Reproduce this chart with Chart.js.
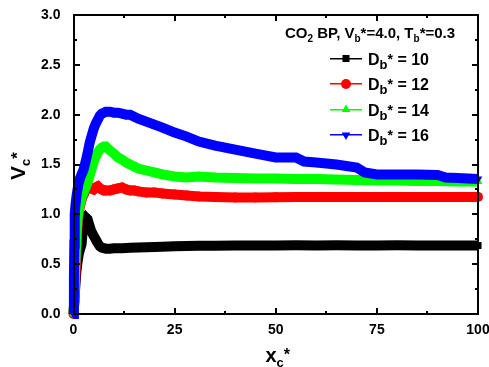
<!DOCTYPE html>
<html>
<head>
<meta charset="utf-8">
<script src="https://cdn.jsdelivr.net/npm/chart.js@4.4.1/dist/chart.umd.min.js"></script>
<style>
  html, body { margin: 0; padding: 0; background: #fff; overflow: hidden; }
  #wrap { width: 489px; height: 367px; }
</style>
</head>
<body>
<div id="wrap"><canvas id="chart"></canvas></div>
<script>
// ===== DATA =====
const xTicks = [0, 25, 50, 75, 100];
const yTicks = [0.0, 0.5, 1.0, 1.5, 2.0, 2.5, 3.0];
const seriesLabels = ["10", "12", "14", "16"];

const blackX = [0, 0.2, 0.4, 0.7, 1.0, 1.3, 1.7, 2.0, 2.3, 2.6,
  3.0, 3.5, 4.0, 4.4, 4.8, 5.2, 5.6, 6.0, 6.5, 7.0,
  8, 9, 10, 12, 14, 16, 18, 20, 22, 25,
  28, 31, 35, 40, 45, 50, 55, 60, 65, 70,
  75, 80, 85, 90, 95, 100];
const blackY = [0, 0.12, 0.25, 0.42, 0.52, 0.6, 0.66, 0.7, 0.85, 0.95,
  0.97, 0.95, 0.88, 0.83, 0.8, 0.77, 0.74, 0.71, 0.68, 0.665,
  0.655, 0.655, 0.66, 0.66, 0.665, 0.668, 0.67, 0.672, 0.675, 0.68,
  0.682, 0.684, 0.686, 0.687, 0.688, 0.688, 0.689, 0.688, 0.689, 0.688,
  0.688, 0.689, 0.688, 0.688, 0.688, 0.688];

const redX = [0, 0.2, 0.4, 0.7, 1.0, 1.3, 1.7, 2.0, 2.5, 3.0,
  3.5, 4, 4.5, 5, 5.5, 6, 6.5, 7, 7.5, 8,
  9, 10, 11, 12, 13, 14, 15, 16, 18, 20,
  22, 25, 28, 31, 35, 40, 45, 50, 55, 60,
  65, 70, 75, 80, 85, 90, 95, 100];
const redY = [0, 0.12, 0.3, 0.6, 0.9, 1.02, 1.1, 1.15, 1.2, 1.24,
  1.27, 1.27, 1.26, 1.25, 1.27, 1.28, 1.26, 1.25, 1.24, 1.24,
  1.24, 1.25, 1.26, 1.27, 1.25, 1.24, 1.24, 1.23, 1.22, 1.22,
  1.21, 1.2, 1.19, 1.18, 1.175, 1.17, 1.17, 1.172, 1.174, 1.175,
  1.175, 1.175, 1.175, 1.175, 1.175, 1.175, 1.175, 1.175];

const greenX = [0, 0.2, 0.4, 0.7, 1.0, 1.3, 1.7, 2.0, 2.5, 3.0,
  3.5, 4, 4.5, 5, 5.5, 6, 6.5, 7, 7.5, 8,
  8.5, 9, 10, 11, 12, 13, 14, 15, 16, 18,
  20, 22, 25, 28, 31, 35, 40, 45, 50, 55,
  60, 65, 70, 75, 80, 85, 90, 95, 100];
const greenY = [0, 0.2, 0.45, 0.75, 0.95, 1.05, 1.12, 1.17, 1.22, 1.27,
  1.32, 1.39, 1.46, 1.53, 1.58, 1.62, 1.65, 1.67, 1.68, 1.68,
  1.66, 1.64, 1.61, 1.57, 1.55, 1.52, 1.5, 1.48, 1.46, 1.44,
  1.42, 1.4, 1.38, 1.37, 1.38, 1.37, 1.365, 1.36, 1.36, 1.355,
  1.355, 1.35, 1.345, 1.34, 1.34, 1.335, 1.335, 1.33, 1.33];

const blueX = [0, 0.1, 0.2, 0.3, 0.5, 0.8, 1.2, 1.6, 2.0, 2.5,
  3.0, 3.5, 4, 4.5, 5, 5.5, 6, 6.5, 7, 7.5,
  8, 8.5, 9, 10, 11, 12, 13, 14, 15, 16,
  18, 20, 22, 25, 28, 31, 35, 40, 45, 50,
  55, 57, 60, 65, 70, 72, 75, 80, 85, 90,
  92, 95, 100];
const blueY = [0, 0.35, 0.7, 1.0, 1.1, 1.2, 1.3, 1.36, 1.4, 1.45,
  1.53, 1.62, 1.72, 1.79, 1.86, 1.91, 1.95, 1.99, 2.01, 2.02,
  2.03, 2.03, 2.03, 2.02, 2.02, 2.01, 2.0, 2.0, 1.98, 1.96,
  1.93, 1.9, 1.87, 1.82, 1.78, 1.73, 1.69, 1.65, 1.61, 1.57,
  1.57, 1.53, 1.52, 1.5, 1.47, 1.42, 1.4, 1.4, 1.4, 1.395,
  1.37, 1.365, 1.355];

const FONT = "'Liberation Sans', Arial, sans-serif";

function toPoints(xs, ys) {
  return xs.map((x, i) => ({ x: x, y: ys[i] }));
}

function makeSet(label, xs, ys, color, style, rot, order) {
  return {
    label: label,
    data: toPoints(xs, ys),
    showLine: true,
    borderColor: color,
    backgroundColor: color,
    borderWidth: 10,
    pointStyle: style,
    pointRotation: rot,
    pointRadius: 5,
    pointHoverRadius: 5,
    pointBorderWidth: 0,
    tension: 0,
    order: order,
    clip: 6
  };
}

// draw a run of text pieces: [text, size, yShift]
function drawRich(ctx, x, y, parts) {
  let cx = x;
  parts.forEach(p => {
    ctx.font = "bold " + p[1] + "px " + FONT;
    ctx.fillText(p[0], cx, y + (p[2] || 0));
    cx += ctx.measureText(p[0]).width;
  });
  return cx - x;
}

function richWidth(ctx, parts) {
  let w = 0;
  parts.forEach(p => {
    ctx.font = "bold " + p[1] + "px " + FONT;
    w += ctx.measureText(p[0]).width;
  });
  return w;
}

// box round the plot and inward ticks on all four sides, from the chart's scales
function drawFrame(chart) {
  const ctx = chart.ctx;
  const xs = chart.scales.x, ys = chart.scales.y;
  const area = chart.chartArea;
  const L = Math.round(area.left), R = Math.round(area.right);
  const T = Math.round(area.top), B = Math.round(area.bottom);
  ctx.save();
  ctx.globalAlpha = 1;
  ctx.globalCompositeOperation = "source-over";
  ctx.fillStyle = "#000000";
  ctx.fillRect(L - 1, T - 1, R - L + 2, 2);
  ctx.fillRect(L - 1, B - 1, R - L + 2, 2);
  ctx.fillRect(L - 1, T - 1, 2, B - T + 2);
  ctx.fillRect(R - 1, T - 1, 2, B - T + 2);
  xTicks.forEach((v, i) => {
    const px = Math.round(xs.getPixelForValue(v));
    ctx.fillRect(px - 1, B - 6, 2, 6);
    ctx.fillRect(px - 1, T, 2, 6);
    if (i < xTicks.length - 1) {
      const mx = Math.round(xs.getPixelForValue((v + xTicks[i + 1]) / 2));
      ctx.fillRect(mx - 1, B - 3, 2, 3);
      ctx.fillRect(mx - 1, T, 2, 3);
    }
  });
  yTicks.forEach((v, i) => {
    const py = Math.round(ys.getPixelForValue(v));
    ctx.fillRect(L, py - 1, 6, 2);
    ctx.fillRect(R - 6, py - 1, 6, 2);
    if (i < yTicks.length - 1) {
      const my = Math.round(ys.getPixelForValue((v + yTicks[i + 1]) / 2));
      ctx.fillRect(L, my - 1, 3, 2);
      ctx.fillRect(R - 3, my - 1, 3, 2);
    }
  });
  ctx.restore();
}

// axis titles and legend
function drawTexts(chart) {
  const ctx = chart.ctx;
  const area = chart.chartArea;
  ctx.save();
  ctx.fillStyle = "#000000";
  ctx.textBaseline = "alphabetic";
  ctx.textAlign = "left";

  const xt = [["x", 20, 0], ["c", 13, 5], ["*", 16, -2]];
  const xw = richWidth(ctx, xt);
  drawRich(ctx, (area.left + area.right) / 2 - xw / 2 + 2, 362, xt);

  const yt = [["V", 21, 0], ["c", 13, 5], ["*", 17, -2]];
  const yw = richWidth(ctx, yt);
  ctx.save();
  ctx.translate(25, 166);
  ctx.rotate(-Math.PI / 2);
  drawRich(ctx, -yw / 2, 0, yt);
  ctx.restore();

  drawRich(ctx, 285, 38, [
    ["CO", 15, 0], ["2", 10, 4], [" BP, V", 15, 0], ["b", 10, 4],
    ["*=4.0, T", 15, 0], ["b", 10, 4], ["*=0.3", 15, 0]
  ]);

  const rowY = [58.5, 84, 109.5, 135];
  chart.data.datasets.forEach((ds, i) => {
    const cy = rowY[i];
    ctx.fillStyle = ds.borderColor;
    ctx.fillRect(330, Math.round(cy) - 1, 32, 1.5);
    Chart.helpers.drawPoint(ctx, {
      pointStyle: ds.pointStyle, rotation: ds.pointRotation,
      radius: 5, borderWidth: 0
    }, 346, cy);
    ctx.fillStyle = "#000000";
    drawRich(ctx, 368, cy + 6, [["D", 16, 0], ["b", 13, 4], ["*", 14, -1], [" = " + seriesLabels[i], 16, 0]]);
  });
  ctx.restore();
}

const decorPlugin = {
  id: "decor",
  beforeDatasetsDraw(chart) { drawFrame(chart); },
  afterDraw(chart) {
    drawFrame(chart);
    drawTexts(chart);
    drawFrame(chart);
  }
};

Chart.defaults.font.family = FONT;
Chart.defaults.color = "#000";

const chart = new Chart(document.getElementById("chart"), {
  type: "scatter",
  data: {
    datasets: [
      makeSet("10", blackX, blackY, "#000000", "rect", 0, 3),
      makeSet("12", redX, redY, "#ff0000", "circle", 0, 2),
      makeSet("14", greenX, greenY, "#00ff00", "triangle", 0, 1),
      makeSet("16", blueX, blueY, "#0000ff", "triangle", 180, 0)
    ]
  },
  options: {
    responsive: true,
    maintainAspectRatio: false,
    animation: false,
    layout: { padding: { top: 15, right: 11, left: 0, bottom: 0 } },
    plugins: { legend: { display: false }, tooltip: { enabled: false } },
    scales: {
      x: {
        type: "linear",
        min: 0, max: 100,
        afterBuildTicks: s => { s.ticks = xTicks.map(v => ({ value: v })); },
        afterFit: s => { s.height = 53; s.paddingLeft = 0; s.paddingRight = 0; },
        grid: { display: false, drawTicks: false },
        border: { display: true, color: "#000", width: 2 },
        ticks: { padding: 8, font: { size: 14, weight: "bold" } }
      },
      y: {
        min: 0, max: 3.0,
        afterBuildTicks: s => { s.ticks = yTicks.map(v => ({ value: v })); },
        afterFit: s => { s.width = 73.5; s.paddingTop = 0; s.paddingBottom = 0; },
        grid: { display: false, drawTicks: false },
        border: { display: true, color: "#000", width: 2 },
        ticks: { padding: 13, font: { size: 14, weight: "bold" }, callback: v => Number(v).toFixed(1) }
      }
    }
  },
  plugins: [decorPlugin]
});

// report the frame geometry, in case it is needed for checking
setTimeout(() => {
  const a = chart.chartArea;
  const px = chart.ctx.getImageData(Math.round(a.left), 100, 1, 1).data;
  console.error("frame", JSON.stringify(a), "pixel@left,100", Array.from(px).join(","));
}, 100);
</script>
</body>
</html>
